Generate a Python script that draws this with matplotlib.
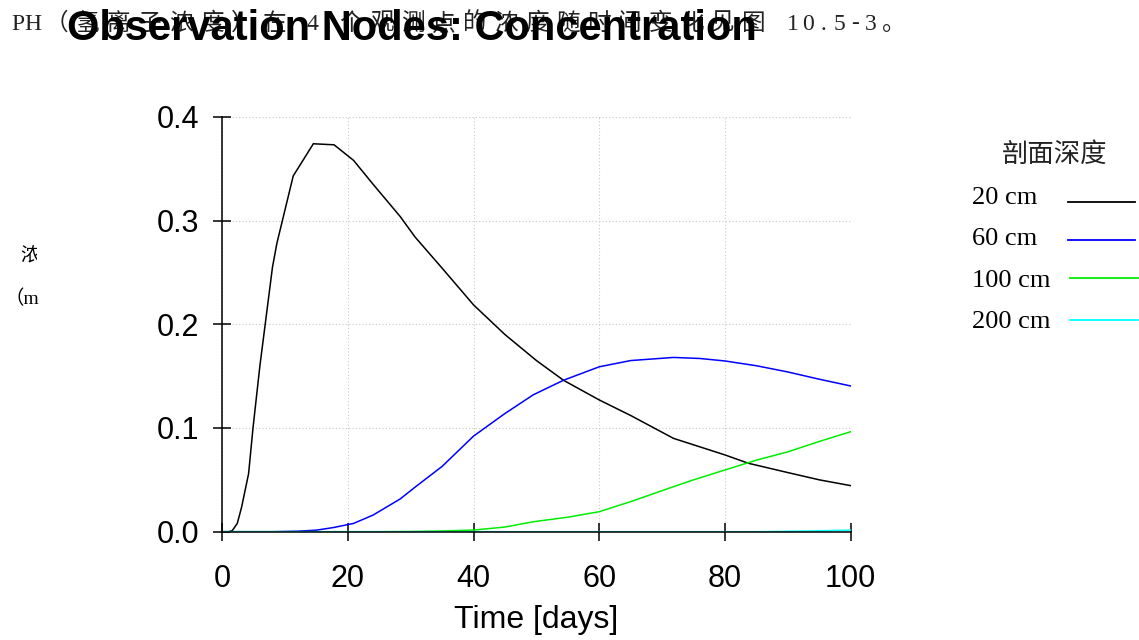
import matplotlib
matplotlib.use("Agg")
import matplotlib.pyplot as plt
from matplotlib.lines import Line2D
from matplotlib.transforms import Bbox

# ---- data: concentration at four observation depths ----
t_20 = [0, 1.0, 1.6, 2.4, 3.1, 4.2, 4.9, 6.0, 6.8, 8.0, 8.7, 11.3, 14.5, 17.8,
        20.9, 24.0, 28.3, 30.7, 35, 40, 45, 50, 54.3, 60, 65, 71.8, 80, 83.7,
        90, 95, 100]
c_20 = [0, 0, 0.001, 0.008, 0.024, 0.056, 0.100, 0.160, 0.198, 0.255, 0.278,
        0.343, 0.374, 0.373, 0.358, 0.335, 0.304, 0.284, 0.254, 0.2186, 0.190,
        0.165, 0.146, 0.127, 0.112, 0.090, 0.074, 0.066, 0.057, 0.050, 0.0444]

t_60 = [0, 8, 12, 15, 17.7, 20.9, 24, 28.3, 30.7, 35, 40, 45, 49.5, 54.3, 60,
        65, 71.8, 76, 80, 85, 90, 95, 100]
c_60 = [0, 0, 0.0005, 0.0015, 0.004, 0.008, 0.016, 0.0315, 0.043, 0.063,
        0.0922, 0.114, 0.132, 0.146, 0.159, 0.165, 0.168, 0.167, 0.1646, 0.160,
        0.154, 0.147, 0.1405]

t_100 = [0, 25, 30, 35, 40, 45, 49.5, 55, 60, 65, 71.8, 75, 80, 85, 90, 95, 100]
c_100 = [0, 0, 0.0002, 0.0007, 0.0016, 0.0045, 0.0096, 0.014, 0.0193, 0.029,
         0.0434, 0.050, 0.0595, 0.069, 0.077, 0.087, 0.0964]

t_200 = [0, 85, 90, 95, 100]
c_200 = [0, 0, 0.0004, 0.0009, 0.0015]

series_labels = ["20 cm", "60 cm", "100 cm", "200 cm"]
series_colors = ["#000000", "#0000ff", "#00ee00", "#00ffff"]
legend_title = "剖面深度"

x_ticks = [0, 20, 40, 60, 80, 100]
y_ticks = [0.0, 0.1, 0.2, 0.3, 0.4]
y_tick_labels = ["0.0", "0.1", "0.2", "0.3", "0.4"]

title_text = "Observation Nodes: Concentration"
x_label = "Time [days]"
caption_text = "PH（氢离子浓度）在 4 个观测点的浓度随时间变化见图 10.5-3。"

# ---- figure ----
W, H = 1139, 640
fig = plt.figure(figsize=(W / 100, H / 100), dpi=100)
fig.patch.set_facecolor("white")


def fx(px):
    return px / W


def fy(py):
    return 1 - py / H


ax_l, ax_r, ax_t, ax_b = 222.2, 850.7, 116.8, 531.7
ax = fig.add_axes([fx(ax_l), fy(ax_b), fx(ax_r - ax_l), (ax_b - ax_t) / H])

series = [(t_20, c_20), (t_60, c_60), (t_100, c_100), (t_200, c_200)]
for (t, c), col in zip(series, series_colors):
    ax.plot(t, c, color=col, lw=1.1, solid_joinstyle="miter")

ax.set_xlim(0, 100)
ax.set_ylim(0, 0.4)
ax.set_xticks(x_ticks)
ax.set_yticks(y_ticks)
ax.set_yticklabels(y_tick_labels)
ax.grid(True, color="#c8c8c8", linestyle=(0, (1, 2)), linewidth=0.8)
ax.set_axisbelow(True)

for s in ["top", "right"]:
    ax.spines[s].set_visible(False)
for s in ["left", "bottom"]:
    ax.spines[s].set_linewidth(1.1)
    ax.spines[s].set_color("black")

ax.tick_params(axis="both", direction="inout", length=13, width=1.1,
               colors="black")
ax.tick_params(axis="y", pad=10.0)
ax.tick_params(axis="x", pad=16.5)
for lab in ax.get_xticklabels() + ax.get_yticklabels():
    lab.set_fontfamily("Liberation Sans")
    lab.set_fontsize(22)

ax.set_xlabel(x_label, fontfamily="Liberation Sans", fontsize=23)
ax.xaxis.set_label_coords(0.5, -(605 - ax_b) / (ax_b - ax_t))

# ---- caption line behind the title, laid out character by character ----
cap_font = ["Liberation Serif", "Noto Sans CJK SC"]
x_pos = 10.0
for ch in caption_text:
    full = ord(ch) > 0x2E80
    adv = 31.0 if full else 15.5
    fig.text(fx(x_pos + adv / 2), fy(24), ch, ha="center", va="center",
             fontsize=17, family=cap_font, color="#222222")
    x_pos += adv

# ---- title ----
fig.text(fx(411.5), fy(40), title_text, ha="center", va="baseline",
         fontsize=30, fontweight="bold", family="Liberation Sans",
         color="black")

# ---- clipped y-axis label fragments ----
ylab_font = ["Liberation Serif", "Noto Sans CJK SC"]
t1 = fig.text(fx(20), fy(257), "浓", ha="left", va="center", fontsize=14,
              family=ylab_font, color="black")
t1.set_clip_box(Bbox([[0, 0], [37, H]]))
t1.set_clip_on(True)
fig.text(fx(4), fy(299), "（m", ha="left", va="center", fontsize=14,
         family=ylab_font, color="black")

# ---- legend ----
leg_font = ["Liberation Serif", "Noto Sans CJK SC"]
fig.text(fx(1055), fy(155), legend_title, ha="center", va="center",
         fontsize=19, family=leg_font, color="#222222")
row_y = [198, 239, 281, 322]
line_y = [201.5, 239.7, 277.5, 320]
line_x = [(1068, 1135), (1068, 1135), (1070, 1138), (1070, 1138)]
for lab, col, ry, ly, (x0, x1) in zip(series_labels, series_colors, row_y,
                                      line_y, line_x):
    fig.text(fx(971.5), fy(ry), lab, ha="left", va="center", fontsize=19,
             family=leg_font, color="black")
    fig.add_artist(Line2D([fx(x0), fx(x1)], [fy(ly), fy(ly)], color=col,
                          lw=1.3, transform=fig.transFigure))

fig.savefig("out.png", dpi=100)
